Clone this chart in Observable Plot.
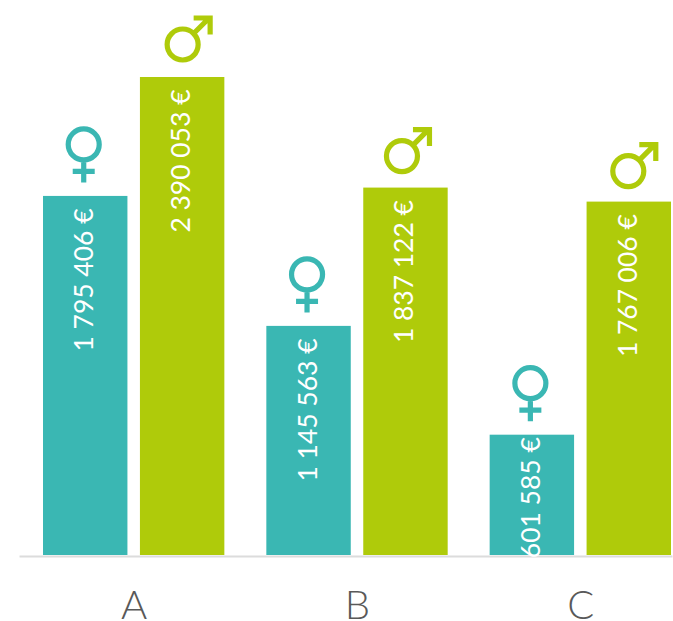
<!DOCTYPE html>
<html><head><meta charset="utf-8">
<script src="https://cdn.jsdelivr.net/npm/d3@7"></script>
<script src="https://cdn.jsdelivr.net/npm/@observablehq/plot@0.6"></script>
<style>html,body{margin:0;padding:0;background:#fff}svg{display:block}</style>
</head><body><div id="chart"></div>
<script>
const groups = ["A","B","C"];
const femaleValues = [1795406,1145563,601585];
const maleValues = [2390053,1837122,1767006];
const femaleColor = "#3ab7b3", maleColor = "#afcb0a";

const rows = groups.flatMap((g,i)=>[
  {group:g, sex:"F", value:femaleValues[i]},
  {group:g, sex:"M", value:maleValues[i]}
]);
const fmt = v => d3.format(",")(v).replace(/,/g,"\u202f") + " €";

const femaleSymbol = {draw(c){
  c.moveTo(15.5,0); c.arc(0,0,15.5,0,2*Math.PI);
  c.moveTo(0,15.5); c.lineTo(0,38);
  c.moveTo(-11,27); c.lineTo(11,27);
}};
const maleSymbol = {draw(c){
  c.moveTo(15.5,0); c.arc(0,0,15.5,0,2*Math.PI);
  c.moveTo(11,-11); c.lineTo(27,-27);
  c.moveTo(11,-26.5); c.lineTo(27.5,-26.5); c.lineTo(27.5,-10);
}};

const labelStyle = {fx:"group",x:"sex",y:"value",text:d=>fmt(d.value),rotate:-90,textAnchor:"end",
  lineAnchor:"middle",fill:"#fff",fontSize:26.5,fontWeight:400,dx:-1};
const maleDot = (group,dx,dy) => Plot.dot(rows.filter(d=>d.sex==="M"&&d.group===group),
  {fx:"group",x:"sex",y:"value",symbol:()=>maleSymbol,r:10,stroke:maleColor,strokeWidth:5.2,fill:"none",dx,dy});

const plot = Plot.plot({
  width:673, height:621,
  marginLeft:20, marginRight:0, marginTop:0, marginBottom:66,
  style:{background:"#fff", fontFamily:"Lato, sans-serif"},
  fx:{domain:groups, paddingInner:0.188, paddingOuter:0.056, align:0.92, round:false, label:null},
  x:{domain:["F","M"], paddingInner:0.129, paddingOuter:0, round:false, axis:null},
  y:{domain:[0,2390053], range:[555,77], axis:null},
  marks:[
    Plot.frame({anchor:"bottom",facet:"super",stroke:"#dcdcdc",strokeWidth:2,dy:1,insetLeft:-23}),
    Plot.barY(rows.filter(d=>d.sex==="F"),{fx:"group",x:"sex",y:"value",fill:femaleColor}),
    Plot.barY(rows.filter(d=>d.sex==="M"),{fx:"group",x:"sex",y:"value",fill:maleColor}),
    Plot.text(rows.filter(d=>d.value>=1000000),{...labelStyle,dy:12}),
    Plot.text(rows.filter(d=>d.value<1000000),{...labelStyle,dy:2}),
    Plot.dot(rows.filter(d=>d.sex==="F"),{fx:"group",x:"sex",y:"value",symbol:()=>femaleSymbol,r:10,
      stroke:femaleColor,strokeWidth:5.2,fill:"none",dx:-2,dy:-52}),
    maleDot("A",0,-33),
    maleDot("B",-4,-32),
    maleDot("C",-1,-31),
    Plot.axisFx({anchor:"bottom",tickSize:0,tickPadding:35,fontSize:40,fontWeight:300,color:"#595959",label:null})
  ]
});
document.getElementById("chart").append(plot);
</script></body></html>
